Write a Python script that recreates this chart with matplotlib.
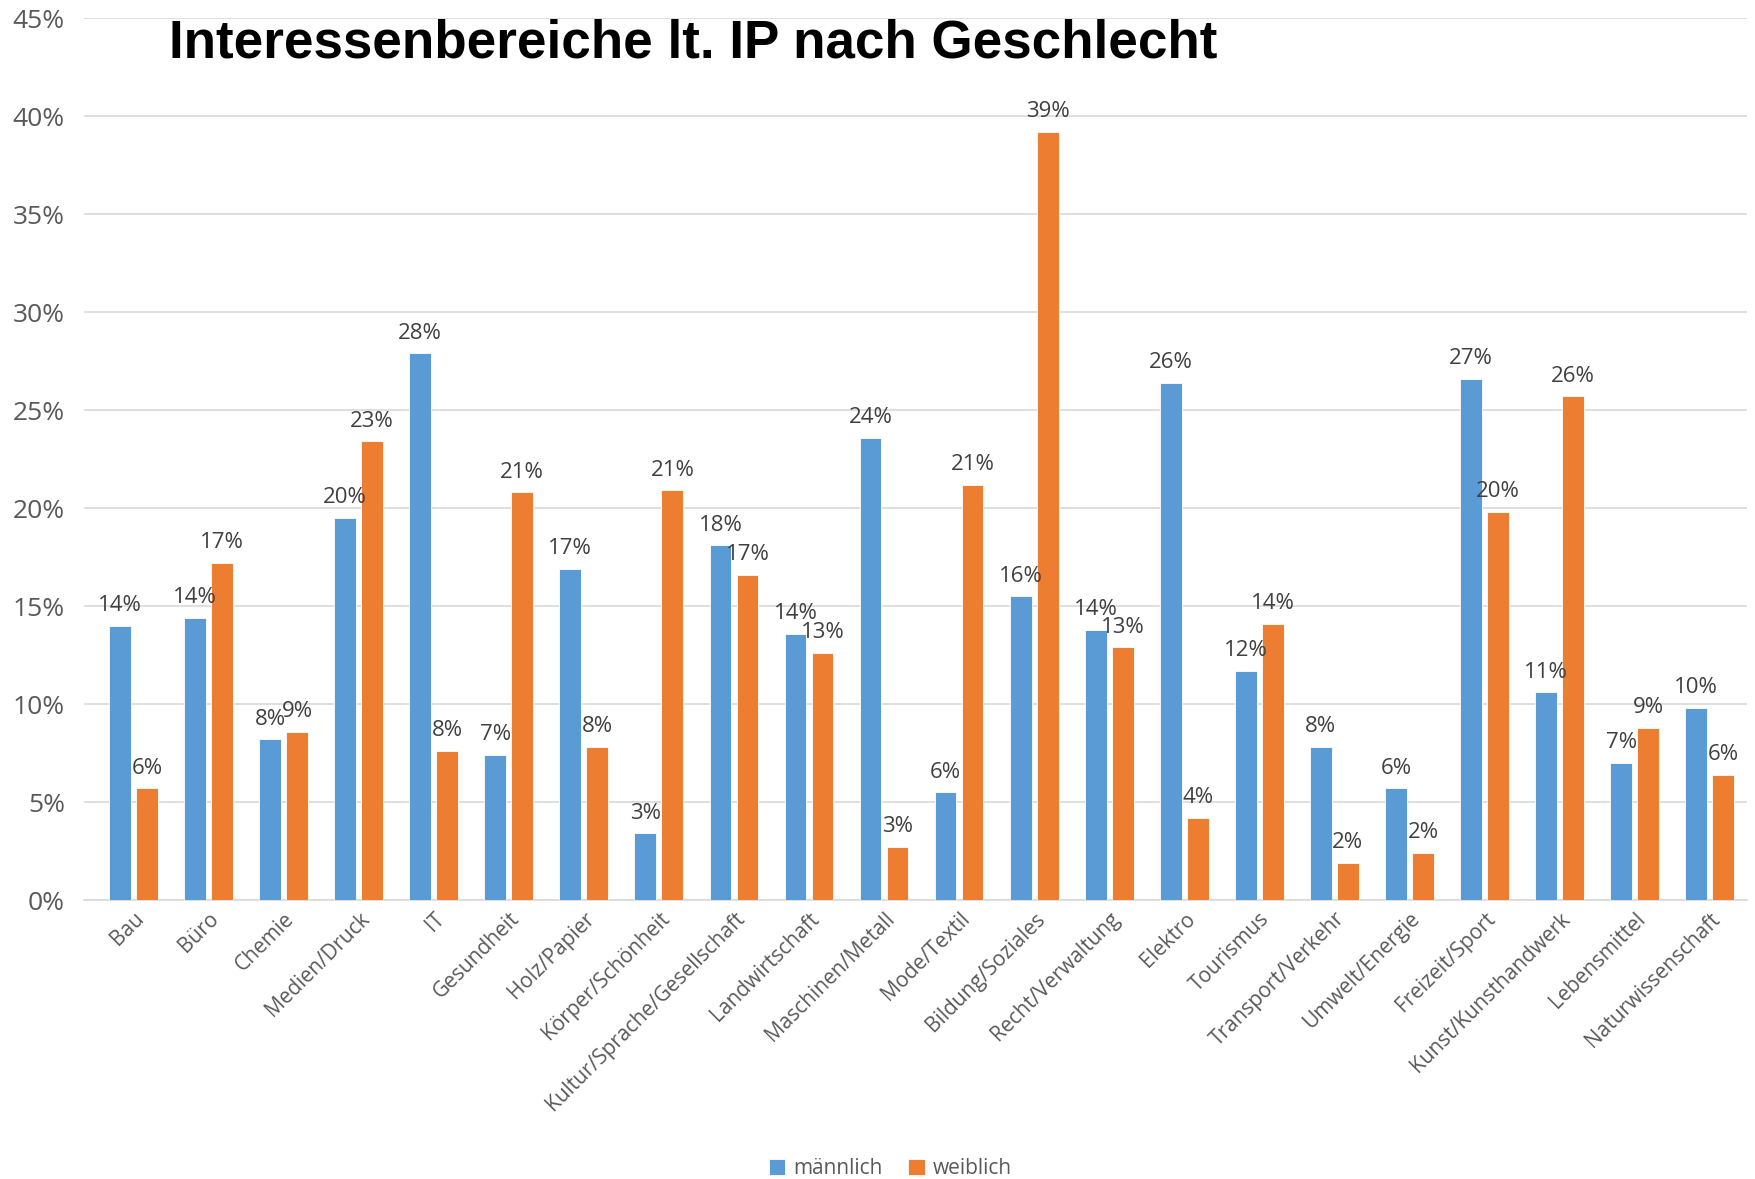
import numpy as np
import matplotlib.pyplot as plt
from matplotlib.ticker import PercentFormatter

# Daten (Anteil in %)
kategorien = ["Bau", "Büro", "Chemie", "Medien/Druck", "IT", "Gesundheit", "Holz/Papier",
              "Körper/Schönheit", "Kultur/Sprache/Gesellschaft", "Landwirtschaft",
              "Maschinen/Metall", "Mode/Textil", "Bildung/Soziales", "Recht/Verwaltung",
              "Elektro", "Tourismus", "Transport/Verkehr", "Umwelt/Energie", "Freizeit/Sport",
              "Kunst/Kunsthandwerk", "Lebensmittel", "Naturwissenschaft"]
maennlich = [14.0, 14.4, 8.2, 19.5, 27.9, 7.4, 16.9, 3.4, 18.1, 13.6, 23.6, 5.5, 15.5, 13.8,
             26.4, 11.7, 7.8, 5.7, 26.6, 10.6, 7.0, 9.8]
weiblich = [5.7, 17.2, 8.6, 23.4, 7.6, 20.8, 7.8, 20.9, 16.6, 12.6, 2.7, 21.2, 39.2, 12.9,
            4.2, 14.1, 1.9, 2.4, 19.8, 25.7, 8.8, 6.4]

BLAU = "#5B9BD5"
ORANGE = "#ED7D31"
GRAU = "#595959"

plt.rcParams['font.family'] = ['Open Sans', 'DejaVu Sans']

fig = plt.figure(figsize=(17.56, 11.79), dpi=100)
ax = fig.add_axes([0.048, 0.2366, 0.947, 0.748])

x = np.arange(len(kategorien))
breite = 0.29
b1 = ax.bar(x - 0.18, maennlich, breite, color=BLAU, edgecolor="white", linewidth=0.6,
            label="männlich", zorder=3)
b2 = ax.bar(x + 0.18, weiblich, breite, color=ORANGE, edgecolor="white", linewidth=0.6,
            label="weiblich", zorder=3)

# Datenbeschriftungen über den Balken
for balken, werte in ((b1, maennlich), (b2, weiblich)):
    for rect, w in zip(balken, werte):
        ax.annotate(f"{w:.0f}%", (rect.get_x() + rect.get_width() / 2, w),
                    xytext=(0, 7), textcoords="offset points", ha="center", va="bottom",
                    fontsize=16, color="#404040", zorder=4)

ax.set_ylim(0, 45)
ax.set_xlim(-0.655, len(kategorien) - 0.5)
ax.set_yticks(np.arange(0, 46, 5))
ax.yaxis.set_major_formatter(PercentFormatter(decimals=0))
ax.grid(axis="y", color="#D9D9D9", linewidth=1.2, zorder=0)
ax.set_axisbelow(True)
for s in ["top", "right", "left"]:
    ax.spines[s].set_visible(False)
ax.spines["bottom"].set_color("#D9D9D9")
ax.spines["bottom"].set_linewidth(1.2)
ax.tick_params(axis="y", length=0, labelsize=19, labelcolor=GRAU, pad=14)
ax.tick_params(axis="x", length=0, labelsize=15, labelcolor=GRAU, pad=6)
ax.set_xticks(x)
ax.set_xticklabels(kategorien, rotation=45, ha="right", rotation_mode="anchor")

fig.text(0.096, 0.963, "Interessenbereiche lt. IP nach Geschlecht", fontsize=38.2,
         fontweight="bold", family="Liberation Sans", ha="left", va="center", color="black")

fig.legend(loc="center", bbox_to_anchor=(0.507, 0.0085), ncol=2, frameon=False,
           fontsize=15, labelcolor=GRAU, handlelength=0.8, handleheight=0.8,
           handletextpad=0.4, columnspacing=1.2)

fig.savefig("out.png", dpi=100)
